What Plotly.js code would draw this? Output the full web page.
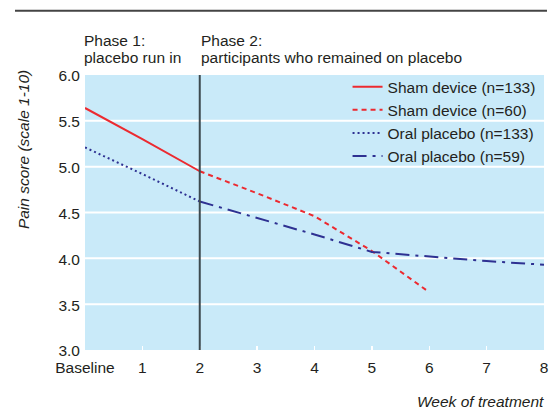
<!DOCTYPE html>
<html>
<head>
<meta charset="utf-8">
<script src="https://cdn.plot.ly/plotly-3.0.1.min.js"></script>
<style>html,body{margin:0;padding:0;background:#fff;}#chart{width:553px;height:412px;}</style>
</head>
<body>
<div id="chart"></div>
<script>
// Data
var weeks = [0, 1, 2, 3, 4, 5, 6, 7, 8];
var tickLabels = ["Baseline", "1", "2", "3", "4", "5", "6", "7", "8"];
var scoreTicks = [3.0, 3.5, 4.0, 4.5, 5.0, 5.5, 6.0];

var shamPhase1Weeks = [0, 1, 2];
var shamPhase1Scores = [5.64, 5.30, 4.95];

var shamPhase2Weeks = [2, 3, 4, 5, 6];
var shamPhase2Scores = [4.95, 4.71, 4.46, 4.08, 3.63];

var oralPhase1Weeks = [0, 1, 2];
var oralPhase1Scores = [5.21, 4.92, 4.62];

var oralPhase2Weeks = [2, 3, 4, 5, 6, 7, 8];
var oralPhase2Scores = [4.62, 4.44, 4.26, 4.07, 4.02, 3.97, 3.93];

var FONT = "Liberation Sans, Arial, sans-serif";
var FS = 15.5;
var RED = "#ec2a30";
var BLUE = "#2e3192";
var TXT = "#231f20";

var traces = [
  {x: shamPhase1Weeks, y: shamPhase1Scores, name: "Sham device (n=133)", mode: "lines",
   line: {color: RED, width: 2}},
  {x: shamPhase2Weeks, y: shamPhase2Scores, name: "Sham device (n=60)", mode: "lines",
   line: {color: RED, width: 2, dash: "5px,4px"}},
  {x: oralPhase1Weeks, y: oralPhase1Scores, name: "Oral placebo (n=133)", mode: "lines",
   line: {color: BLUE, width: 2, dash: "2px,3px"}},
  {x: oralPhase2Weeks, y: oralPhase2Scores, name: "Oral placebo (n=59)", mode: "lines",
   line: {color: BLUE, width: 2, dash: "14px,6px,3px,6px"}}
];

// white horizontal gridlines between the axis edges
var gridShapes = scoreTicks.filter(function (v) { return v > 3 && v < 6; }).map(function (v) {
  return {type: "line", xref: "paper", yref: "y", x0: 0, x1: 1, y0: v, y1: v,
          layer: "below", line: {color: "#ffffff", width: 2}};
});

var layout = {
  width: 553, height: 412,
  margin: {l: 85, r: 9, t: 75, b: 62},
  paper_bgcolor: "#ffffff",
  plot_bgcolor: "#c9eaf9",
  font: {family: FONT, size: FS, color: TXT},
  showlegend: true,
  legend: {x: 0.572, xanchor: "left", y: 1.018, yanchor: "top",
           bgcolor: "rgba(0,0,0,0)", borderwidth: 0,
           font: {family: FONT, size: FS, color: TXT}},
  xaxis: {
    range: [0, 8], tickvals: weeks, ticktext: tickLabels,
    showgrid: false, zeroline: false, showline: false,
    ticks: "inside", ticklen: 4, tickwidth: 1.5, tickcolor: "#ffffff",
    ticklabelstandoff: 6,
    tickfont: {family: FONT, size: FS, color: TXT},
    fixedrange: true
  },
  yaxis: {
    range: [3, 6], tickvals: scoreTicks, tickformat: ".1f",
    showgrid: false,
    zeroline: false, showline: false, ticks: "",
    ticklabelstandoff: 4, ticklabelshift: 1,
    tickfont: {family: FONT, size: FS, color: TXT},
    fixedrange: true
  },
  shapes: gridShapes.concat([
    {type: "line", xref: "x", yref: "y", x0: 2, x1: 2, y0: 3, y1: 6,
     line: {color: "#3d4a4f", width: 2}},
    {type: "line", xref: "paper", yref: "paper", x0: -0.1525, x1: 1.0065, y0: 1.2338, y1: 1.2338,
     line: {color: "#444444", width: 2}}
  ]),
  annotations: [
    {text: "Phase 1:", xref: "paper", yref: "paper", x: 0, y: 1.127, xanchor: "left", yanchor: "middle",
     xshift: -3, showarrow: false, font: {family: FONT, size: FS, color: TXT}},
    {text: "placebo run in", xref: "paper", yref: "paper", x: 0, y: 1.065, xanchor: "left", yanchor: "middle",
     xshift: -3, showarrow: false, font: {family: FONT, size: FS, color: TXT}},
    {text: "Phase 2:", xref: "x", yref: "paper", x: 2, y: 1.127, xanchor: "left", yanchor: "middle",
     xshift: -1, showarrow: false, font: {family: FONT, size: FS, color: TXT}},
    {text: "participants who remained on placebo", xref: "x", yref: "paper", x: 2, y: 1.065, xanchor: "left", yanchor: "middle",
     xshift: -1, showarrow: false, font: {family: FONT, size: FS, color: TXT}},
    {text: "<i>Pain score (scale 1-10)</i>", xref: "paper", yref: "paper", x: -0.135, y: 0.727,
     xanchor: "center", yanchor: "middle", textangle: -90,
     showarrow: false, font: {family: FONT, size: FS, color: TXT}},
    {text: "<i>Week of treatment</i>", xref: "paper", yref: "paper", x: 1.0044, y: -0.189,
     xanchor: "right", yanchor: "middle",
     showarrow: false, font: {family: FONT, size: FS, color: TXT}}
  ]
};

Plotly.newPlot("chart", traces, layout, {displayModeBar: false, staticPlot: true});
</script>
</body>
</html>
